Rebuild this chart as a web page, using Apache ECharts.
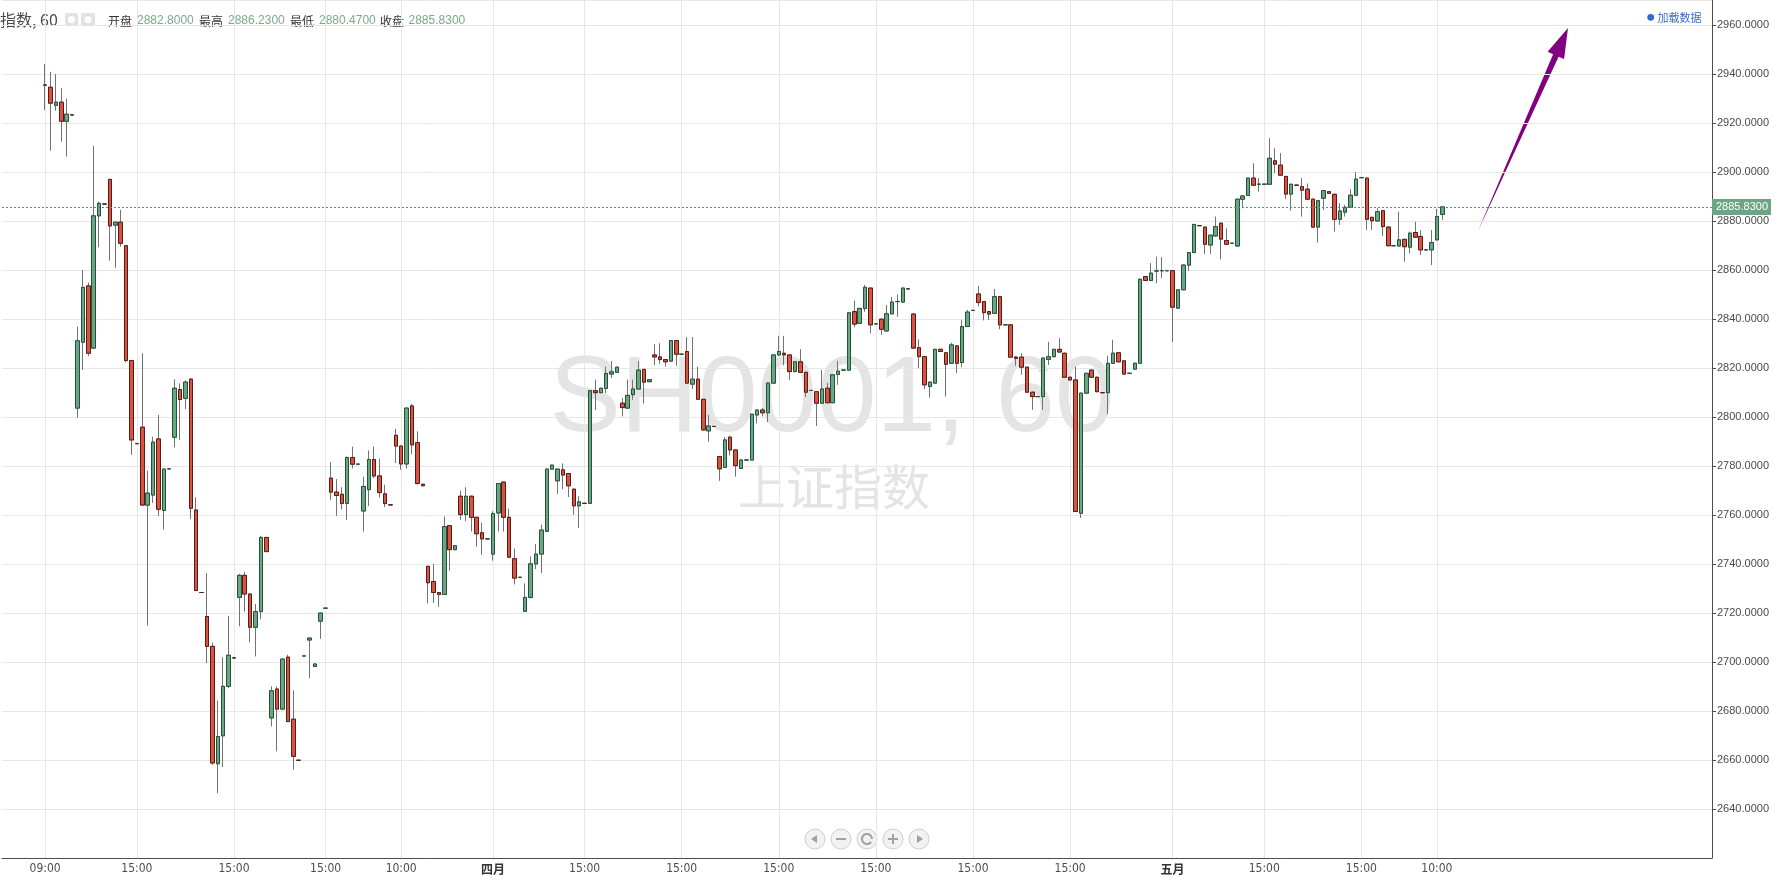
<!DOCTYPE html>
<html><head><meta charset="utf-8">
<script src="https://cdn.jsdelivr.net/npm/echarts@6/dist/echarts.min.js"></script>
<style>html,body{margin:0;padding:0;background:#fff;}#c{width:1775px;height:880px;}</style>
</head><body><div id="c"></div>
<script>
const openVals = [2935.6,2934.7,2927.3,2928.6,2920.8,2923.4,2803.7,2830.6,2853.6,2828.2,2882.2,2887,2897.1,2878.4,2879.6,2870,2823.1,2789.2,2795.9,2764.1,2768.2,2791.1,2761.9,2778.9,2791.8,2811.3,2807.7,2815.5,2762.1,2728.4,2718.6,2706.4,2658.5,2669.9,2690.1,2701.7,2726.4,2735.4,2727.8,2714.2,2720.6,2750.9,2677.2,2689,2680.8,2702,2676.7,2659.9,2702.5,2709,2698.2,2716.7,2722,2775.1,2769.4,2768.5,2764.8,2783.5,2780.8,2761.7,2770.4,2782.7,2776,2768.7,2764.2,2792.6,2788.2,2780.9,2804.6,2789.6,2772.6,2739.1,2732.9,2728.4,2727.6,2755.7,2745.9,2767.7,2760.2,2767.7,2759.1,2752.8,2750.3,2744.1,2760.9,2773.5,2759.1,2742.2,2734.6,2720.7,2726.4,2740.1,2744.1,2753.4,2778.8,2774,2778.5,2777,2770.6,2763.8,2764.8,2764.8,2810.8,2810,2811.7,2817.6,2818.3,2805.7,2803.7,2809.2,2811.5,2819.5,2814.5,2825.4,2824.6,2823.5,2822.9,2831.3,2825.7,2826.8,2813.5,2815.5,2807.3,2794.4,2796.2,2783.9,2779.5,2791.8,2786.6,2779.1,2782.5,2782.5,2800.9,2802.9,2801.8,2813.9,2825.4,2826.1,2825.4,2818.6,2822.6,2818.3,2810.9,2810.4,2805.7,2811.8,2805.9,2817.5,2819.2,2819.2,2843.1,2838.3,2844.4,2852.7,2838.1,2840,2835.2,2842.2,2847.2,2847,2852.4,2842.1,2828.4,2824.7,2812.5,2813.9,2827.7,2826.3,2822,2829.1,2822.3,2837,2843.6,2850.3,2847.2,2843.1,2842.4,2849.2,2837.7,2837.7,2824.5,2824.5,2820.4,2810.2,2808.4,2808.4,2823.6,2824.7,2827.7,2826.1,2816.3,2815.2,2760.8,2809.8,2819.2,2816.3,2810,2810,2822,2826.3,2823,2817.9,2819.6,2822,2857.4,2855.8,2859.7,2859.8,2859.8,2859.8,2844.5,2852,2862.1,2867.2,2878.2,2877.6,2870.3,2874,2879.2,2872.1,2871,2869.9,2889,2890.5,2897.6,2895.1,2895.1,2895.1,2904.7,2902.9,2898.3,2891.1,2894.7,2894.1,2893.1,2889,2877.6,2889.4,2892.1,2891,2880.8,2883.7,2885.7,2890.6,2897.8,2897.6,2881.6,2880.1,2884.3,2877.6,2870,2869.9,2872.6,2869.4,2875.4,2873.8,2868.3,2868.3,2872.4,2882.8];
const closeVals = [2935.6,2928.2,2928.6,2920.8,2923.7,2923.4,2831.2,2853,2826.1,2882.2,2887.3,2887,2878.1,2879.6,2871,2823.1,2790.7,2789.2,2764.1,2769,2789.8,2762.4,2778.8,2778.9,2811.8,2807.2,2814.3,2762.8,2729.2,2728.4,2706.4,2658.8,2669.6,2690.1,2702.8,2701.7,2735.4,2727.8,2714.2,2720.6,2750.9,2745.1,2688.3,2680.8,2701.2,2675.7,2661.5,2659.9,2702.5,2709.8,2699.2,2720,2722,2769.4,2768,2764.8,2783.5,2780.8,2780.8,2771.7,2782.7,2776,2769.2,2764.7,2764.2,2788.2,2780.9,2803.7,2788.7,2772.9,2772,2732.4,2728.4,2727.6,2755.3,2745.9,2747.5,2760.2,2767.7,2759.1,2752.4,2750.3,2750.3,2760.6,2772.9,2759.1,2742.8,2734.3,2734.6,2726.4,2740.1,2744.1,2753.9,2778.8,2780.4,2778.8,2776.4,2772,2763.8,2765.4,2764.8,2810.8,2810,2811.8,2817.8,2818.5,2820.4,2803.9,2808.9,2811.5,2819.2,2814.3,2815.3,2824.6,2823.5,2822.6,2831.3,2825.7,2825.7,2813.9,2815.5,2807.3,2794.8,2796.4,2796.2,2778.9,2790.7,2786.6,2780.2,2782.5,2782.5,2801.2,2802.9,2801.8,2813.9,2825.4,2826.8,2825.4,2818.6,2822.6,2818.3,2810.2,2810.9,2805.7,2811.5,2805.9,2817.3,2818.8,2819.2,2842.6,2838,2844.4,2853,2837.7,2838.1,2835.9,2842.2,2847,2847.2,2852.7,2852.4,2828.2,2824.7,2813.2,2814.3,2827.7,2826.8,2821.6,2829.5,2822,2837,2842.9,2843.6,2846.8,2842.7,2842.1,2849.2,2837.7,2837.7,2824.5,2824,2820.4,2810.2,2808.4,2808.4,2824.1,2824.7,2827.7,2826.6,2816.3,2815.2,2761.5,2809.8,2817.9,2816.3,2810.4,2810,2822,2826.1,2822.6,2817.6,2817.9,2822,2856.3,2855.8,2858.8,2859.7,2859.8,2859.8,2844.9,2852,2862.1,2867.2,2878.7,2878.2,2870.6,2874.3,2877.8,2872.7,2870.6,2871,2889,2890.3,2897.6,2894.7,2895.1,2895.1,2905.7,2903.3,2898.8,2891.1,2895.1,2894.7,2892.7,2889,2877.6,2888.4,2892.5,2891.4,2880.8,2884.2,2885.7,2890.6,2897.2,2897.8,2880.8,2880.2,2883.9,2877.8,2870,2870,2872.4,2869.6,2875.1,2873.5,2868.3,2868.3,2871.3,2881.9,2885.83];
const lowVals = [2925.4,2908.8,2925.1,2912.5,2906.4,2923.4,2799.8,2819.3,2825,2828,2869.4,2887,2863.9,2861,2869.6,2822.4,2784.6,2789.2,2764,2714.9,2765,2759.7,2754.1,2778.9,2787.7,2790.7,2803.3,2758.4,2729,2728.4,2699.6,2658,2646.5,2657.1,2689.4,2701.7,2714.6,2720.6,2708,2702.3,2717.5,2745,2673.7,2663.6,2680.5,2675.5,2656.1,2659.9,2702.5,2693.5,2698,2709.5,2722,2766.2,2759.7,2762.4,2758,2779.1,2780.8,2753.3,2763.7,2775.1,2767.2,2763.3,2764.2,2781.3,2778.5,2779,2785,2772.5,2771.8,2724,2724.2,2722.6,2727.5,2737.3,2745.7,2758.1,2757.5,2753.3,2747.1,2743.8,2750.3,2741.4,2753.3,2753.3,2742.5,2731.7,2734.6,2720.5,2726,2738,2736.4,2753,2778.6,2768.7,2770.6,2767.4,2760.1,2754.8,2764.8,2764.6,2802.8,2809.8,2809.8,2815.9,2818.1,2800.3,2803.5,2807.1,2811.3,2805.6,2814.3,2821.3,2821.8,2820.6,2822.7,2821,2825.7,2813.7,2811.5,2807,2794.5,2790,2796.2,2774,2779.3,2784.4,2775.7,2778.9,2782.5,2782.3,2797.5,2800.3,2798,2813.7,2825.2,2821.2,2815.2,2818.4,2818.1,2808.2,2810.9,2796.4,2805.5,2805.7,2805.7,2813.2,2819.2,2819,2836.7,2838.1,2843,2834.3,2838.1,2833.6,2835,2842,2841,2846.8,2852.4,2828,2820,2811.5,2808,2813.7,2826.6,2808.4,2821.8,2818,2820.4,2836.8,2843.6,2845.2,2839.5,2839.7,2842.2,2835.9,2837.7,2824.3,2821,2817.3,2810,2803,2808.4,2803,2821.3,2824.5,2826.4,2816.1,2815,2761.3,2758.8,2809.6,2816.1,2810.2,2810,2801.1,2821.8,2822.4,2817.4,2817.9,2819.4,2821.8,2855.6,2855.6,2854.7,2856.7,2859.8,2830.6,2844.3,2851.8,2859.7,2867,2878.2,2866.7,2866.7,2873.8,2864.5,2870.4,2871,2869.7,2885.3,2890.3,2894.5,2892.1,2895.1,2894.9,2899.6,2898.6,2889.1,2884.3,2894.7,2881.9,2888.8,2877.4,2871.3,2884.6,2891.2,2875.8,2878.5,2881.9,2885.5,2890.4,2897.8,2876.4,2876.4,2879.9,2874,2869.8,2870,2869.7,2863.5,2866.9,2873.3,2866.2,2868.3,2862.1,2872.2,2880.47];
const highVals = [2944.2,2941,2940.1,2934.3,2930,2923.4,2837,2860.1,2855,2910.7,2888,2887,2897.1,2880,2884.6,2870,2823.1,2789.2,2826.1,2778.2,2792,2800.9,2779,2778.9,2815.5,2813.8,2815,2816,2767.3,2728.4,2736.3,2708,2684.3,2702,2718.9,2701.7,2736,2736.9,2728,2723.7,2751.4,2751,2690.1,2690,2701.5,2703,2688.4,2659.9,2702.5,2710,2699.4,2720.2,2722,2781.6,2774.7,2771.4,2784,2788,2780.8,2775.7,2786.4,2788,2783.1,2772.4,2764.2,2795.2,2788.5,2804,2805.4,2794.2,2772.8,2739.1,2740,2728.6,2759.4,2756,2747.7,2770,2771.4,2768,2759.3,2756.8,2750.3,2761.6,2773,2773.7,2762.6,2746.4,2734.6,2732.1,2743.1,2748.2,2756.1,2779,2780.6,2779,2781.1,2777.2,2770.8,2767.7,2764.8,2811,2815.3,2812,2820.6,2822.9,2820.6,2807.8,2815.3,2815.3,2822.9,2819.7,2815.5,2829.8,2830.2,2823.7,2831.5,2831.5,2825.7,2832.7,2832.7,2820.6,2807.5,2800.9,2796.2,2784.1,2791.8,2792.5,2786.8,2782.8,2782.5,2801.4,2803.1,2803.8,2814.1,2825.6,2833.2,2833.2,2825.6,2822.8,2827.8,2818.5,2810.9,2810.6,2819.2,2814,2817.5,2823,2819.2,2842.8,2847.6,2844.6,2854,2852.9,2838.1,2840.2,2845.8,2849,2850.1,2852.9,2852.4,2842.3,2831.8,2825,2814.5,2827.9,2827.9,2826.5,2830.4,2829.3,2839.7,2843.8,2843.6,2853.6,2847.4,2843.3,2852.3,2849.4,2837.7,2837.9,2825,2826.1,2820.6,2810.4,2808.4,2824.3,2830.8,2827.9,2832.2,2826.3,2816.5,2820.6,2810,2818.1,2819.4,2816.5,2810,2825,2831.6,2826.5,2823.2,2817.9,2822.2,2856.5,2857.6,2862.9,2865.5,2865.3,2859.8,2860,2852.2,2862.3,2867.4,2878.9,2878.2,2877.8,2874.5,2881.9,2879.4,2877.1,2871,2889.2,2890.5,2897.8,2903.7,2897.6,2895.1,2913.9,2909.8,2907.8,2898.5,2895.3,2894.7,2897.6,2895.4,2889.2,2888.6,2892.7,2892.3,2891.2,2887.4,2886.6,2893.1,2900,2897.8,2897.8,2881.8,2885.3,2884.5,2877.8,2870,2883.9,2872.8,2875.8,2879.8,2876.4,2868.3,2876.4,2885,2886.23];
// x tick labels: [text, candle index]
const tickLabels = [['09:00',0],['15:00',17],['15:00',35],['15:00',52],['10:00',66],['四月',83],['15:00',100],['15:00',118],['15:00',136],['15:00',154],['15:00',172],['15:00',190],['五月',209],['15:00',226],['15:00',244],['10:00',258]];
const yMin = 2620, yMax = 2970.33, yStep = 20;
const lastOHLC = {open: 2882.80, high: 2886.23, low: 2880.47, close: 2885.83};
const leadSlots = 8, tailSlots = 50;

const N = leadSlots + openVals.length + tailSlots;
const cats = [];
for (let i = 0; i < N; i++) cats.push(String(i));
const labelMap = {};
tickLabels.forEach(t => { labelMap[t[1] + leadSlots] = t[0]; });
const wickData = [], bodyData = [];
for (let i = 0; i < N; i++) {
  const k = i - leadSlots;
  if (k < 0 || k >= openVals.length) { wickData.push('-'); bodyData.push('-'); continue; }
  const o = openVals[k], c = closeVals[k];
  const lo = Math.min(lowVals[k], o, c), hi = Math.max(highVals[k], o, c);
  wickData.push([o, c, lo, hi]);
  bodyData.push([o, c, Math.min(o, c), Math.max(o, c)]);
}

const chart = echarts.init(document.getElementById('c'), null, {renderer: 'canvas'});
const gridCol = '#e7e7e7';
const numFont = '"Liberation Sans", Arial, sans-serif';
const cjkFont = '"Noto Sans CJK SC", sans-serif';

function btn(cx, kind) {
  const els = [{type: 'circle', shape: {cx: cx, cy: 839, r: 10}, style: {fill: '#f2f2f2', stroke: '#cfcfcf', lineWidth: 1}}];
  const g = '#a0a0a0';
  if (kind === 'left') els.push({type: 'polygon', shape: {points: [[cx - 4, 839], [cx + 2, 835], [cx + 2, 843]]}, style: {fill: g}});
  if (kind === 'right') els.push({type: 'polygon', shape: {points: [[cx + 4, 839], [cx - 2, 835], [cx - 2, 843]]}, style: {fill: g}});
  if (kind === 'minus') els.push({type: 'rect', shape: {x: cx - 5, y: 838, width: 10, height: 2}, style: {fill: g}});
  if (kind === 'plus') { els.push({type: 'rect', shape: {x: cx - 5, y: 838, width: 10, height: 2}, style: {fill: g}}); els.push({type: 'rect', shape: {x: cx - 1, y: 834, width: 2, height: 10}, style: {fill: g}}); }
  if (kind === 'reset') els.push({type: 'arc', shape: {cx: cx, cy: 839, r: 5, startAngle: 0.6, endAngle: 2 * Math.PI}, style: {stroke: g, fill: null, lineWidth: 2}});
  return els;
}

// arrow geometry (annotation)
const S = [1477.7, 231.7], T = [1568, 28];
const dx = T[0] - S[0], dy = T[1] - S[1], L = Math.hypot(dx, dy);
const u = [dx / L, dy / L], n = [-u[1], u[0]];
const B = [T[0] - 30 * u[0], T[1] - 30 * u[1]];
const pt = (p, s) => [p[0] + s * n[0], p[1] + s * n[1]];
const arrowPts = [S, pt(B, 3), pt(B, 9), T, pt(B, -9), pt(B, -3)];

const headerItems = [
  ['开盘', 108, '#333', cjkFont], [lastOHLC.open.toFixed(4), 137, '#7aab8b', numFont],
  ['最高', 199, '#333', cjkFont], [lastOHLC.high.toFixed(4), 228, '#7aab8b', numFont],
  ['最低', 290, '#333', cjkFont], [lastOHLC.low.toFixed(4), 319, '#7aab8b', numFont],
  ['收盘', 380, '#333', cjkFont], [lastOHLC.close.toFixed(4), 408.5, '#7aab8b', numFont]
];

const graphics = [
  {type: 'text', z: -10, x: 832, y: 401, style: {text: 'SH0001, 60', font: '107px ' + numFont, fill: '#e4e4e4', align: 'center', verticalAlign: 'middle'}},
  {type: 'text', z: -10, x: 834, y: 487, style: {text: '上证指数', font: '48px ' + cjkFont, fill: '#e4e4e4', align: 'center', verticalAlign: 'middle'}},
  {type: 'text', x: 0, y: 20, style: {text: '指数, 60', font: '16px ' + cjkFont, fill: '#4a4a4a', verticalAlign: 'middle'}},
  {type: 'rect', shape: {x: 65, y: 13, width: 13, height: 13, r: 2}, style: {fill: '#e2e2e2'}},
  {type: 'circle', shape: {cx: 71.5, cy: 19.5, r: 3.5}, style: {fill: '#fff'}},
  {type: 'rect', shape: {x: 81, y: 13, width: 14, height: 13, r: 2}, style: {fill: '#e2e2e2'}},
  {type: 'circle', shape: {cx: 88, cy: 19.5, r: 3.5}, style: {fill: '#fff'}},
  {type: 'circle', shape: {cx: 1650.7, cy: 17.3, r: 3.4}, style: {fill: '#2d6bd0'}},
  {type: 'text', x: 1657.5, y: 17.5, style: {text: '加载数据', font: '11px ' + cjkFont, fill: '#3a6cc2', verticalAlign: 'middle'}},
  {type: 'polygon', shape: {points: arrowPts}, style: {fill: '#800080'}}
].concat(headerItems.map(h => ({type: 'text', x: h[1], y: 21, style: {text: h[0], font: '12px ' + h[3], fill: h[2], verticalAlign: 'middle'}})))
 .concat(btn(815, 'left'), btn(841, 'minus'), btn(867, 'reset'), btn(893, 'plus'), btn(919, 'right'));

chart.setOption({
  animation: false,
  backgroundColor: '#ffffff',
  grid: {left: 2, right: 63, top: 0, bottom: 22, containLabel: false},
  xAxis: {
    type: 'category', data: cats, boundaryGap: false,
    axisLine: {show: true, lineStyle: {color: '#4d4d4d', width: 1}},
    axisTick: {show: false},
    axisLabel: {
      interval: (idx) => labelMap[idx] !== undefined,
      formatter: (v) => { const t = labelMap[+v]; if (t === undefined) return ''; return /月/.test(t) ? '{b|' + t + '}' : t; },
      color: '#4d4d4d', fontSize: 12, fontFamily: '"Liberation Sans Narrow", "DejaVu Sans Condensed", sans-serif', margin: 5,
      rich: {b: {fontWeight: 'bold', fontSize: 12, color: '#333', fontFamily: cjkFont}}
    },
    splitLine: {show: true, interval: (idx) => labelMap[idx] !== undefined, lineStyle: {color: gridCol, width: 1}}
  },
  yAxis: {
    type: 'value', position: 'right', min: yMin, max: yMax, interval: yStep, scale: true,
    axisLine: {show: true, lineStyle: {color: '#4d4d4d', width: 1}},
    axisTick: {show: true, length: 4, lineStyle: {color: '#4d4d4d'}},
    axisLabel: {formatter: (v) => v.toFixed(4), color: '#4a4a4a', fontSize: 11, fontFamily: numFont, margin: 5, showMinLabel: false, showMaxLabel: false},
    splitLine: {show: true, lineStyle: {color: gridCol, width: 1}}
  },
  series: [
    {
      type: 'candlestick', name: 'wick', data: wickData, barWidth: 4, z: 2,
      itemStyle: {color: 'rgba(0,0,0,0)', color0: 'rgba(0,0,0,0)', borderColor: '#737375', borderColor0: '#737375', borderColorDoji: '#737375', borderWidth: 1}
    },
    {
      type: 'candlestick', name: 'body', data: bodyData, barWidth: 4, z: 3,
      itemStyle: {color: '#6BA583', color0: '#D75442', borderColor: '#225437', borderColor0: '#5B1A13', borderWidth: 1},
      markLine: {
        silent: true, symbol: 'none', animation: false,
        lineStyle: {color: '#4f9479', type: [2, 2], width: 1},
        label: {position: 'end', distance: 0, formatter: () => lastOHLC.close.toFixed(4), backgroundColor: '#6BA583', color: '#fff', fontSize: 11, fontFamily: numFont, padding: [3, 3, 2, 4]},
        data: [{yAxis: lastOHLC.close}]
      }
    }
  ],
  graphic: graphics
});
</script></body></html>
